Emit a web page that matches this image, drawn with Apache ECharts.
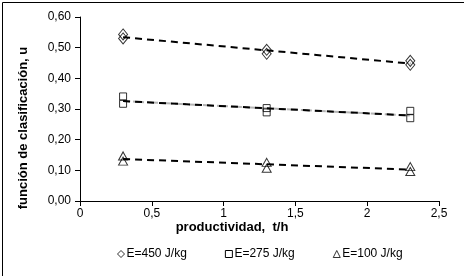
<!DOCTYPE html>
<html><head><meta charset="utf-8">
<script src="https://cdn.jsdelivr.net/npm/echarts@6/dist/echarts.min.js"></script>
<style>html,body{margin:0;padding:0;background:#fff}#c{width:464px;height:276px}</style>
</head><body><div id="c"></div>
<script>
const xValues = [0.3, 0.3, 1.3, 1.3, 2.3, 2.3];
const e450 = [0.543, 0.530, 0.493, 0.480, 0.457, 0.444];
const e275 = [0.341, 0.317, 0.303, 0.289, 0.294, 0.270];
const e100 = [0.147, 0.130, 0.126, 0.107, 0.112, 0.096];
const seriesNames = ['E=450 J/kg', 'E=275 J/kg', 'E=100 J/kg'];
const xTickLabels = ['0', '0,5', '1', '1,5', '2', '2,5'];
const xTitle = 'productividad,  t/h';
const yTitle = 'función de clasificación, u';

function fit(xs, ys) {
  const n = xs.length;
  const mx = xs.reduce((a, b) => a + b, 0) / n;
  const my = ys.reduce((a, b) => a + b, 0) / n;
  let sxy = 0, sxx = 0;
  for (let i = 0; i < n; i++) { sxy += (xs[i] - mx) * (ys[i] - my); sxx += (xs[i] - mx) ** 2; }
  const b = sxy / sxx, a = my - b * mx;
  const x0 = Math.min(...xs), x1 = Math.max(...xs);
  return [[x0, a + b * x0], [x1, a + b * x1]];
}
const pts = ys => xValues.map((x, i) => [x, ys[i]]);
const font = 'Liberation Sans, Arial, sans-serif';
const markerStyle = { color: 'rgba(255,255,255,0)', borderColor: '#000', borderWidth: 1 };
const dashed = { color: '#000', width: 2, type: [7, 5] };

const chart = echarts.init(document.getElementById('c'));
chart.setOption({
  animation: false,
  grid: { left: 80, right: 25, top: 17, bottom: 75 },
  xAxis: {
    type: 'value', min: 0, max: 2.5, interval: 0.5,
    splitLine: { show: false },
    axisLine: { lineStyle: { color: '#000', width: 1 } },
    axisTick: { show: true, length: 5, lineStyle: { color: '#000' } },
    axisLabel: { color: '#000', fontSize: 12, fontFamily: font, margin: 7,
      formatter: v => xTickLabels[Math.round(v / 0.5)] }
  },
  yAxis: {
    type: 'value', min: 0, max: 0.6, interval: 0.1,
    splitLine: { show: false },
    axisLine: { show: true, lineStyle: { color: '#000', width: 1 } },
    axisTick: { show: true, length: 5, lineStyle: { color: '#000' } },
    axisLabel: { color: '#000', fontSize: 12, fontFamily: font, margin: 9,
      formatter: v => v.toFixed(2).replace('.', ',') }
  },
  legend: {
    left: 112, top: 243, itemGap: 38, itemWidth: 7, itemHeight: 7,
    textStyle: { color: '#000', fontSize: 12, fontFamily: font, padding: [0, 0, 0, -3] },
    data: [
      { name: seriesNames[0], icon: 'diamond', itemStyle: { color: '#fff', borderColor: '#000', borderWidth: 1 } },
      { name: seriesNames[1], icon: 'rect', itemStyle: { color: '#fff', borderColor: '#000', borderWidth: 1 } },
      { name: seriesNames[2], icon: 'triangle', itemStyle: { color: '#fff', borderColor: '#000', borderWidth: 1 } }
    ]
  },
  graphic: [
    { type: 'rect', left: 0, top: 0, z: 100, silent: true,
      shape: { x: 0.5, y: 0.5, width: 463, height: 275 },
      style: { fill: 'none', stroke: '#000', lineWidth: 1 } },
    { type: 'text', left: 'center', top: 221, z: 10, x: 43,
      style: { text: xTitle, font: 'bold 13px ' + font, fill: '#000' } },
    { type: 'text', x: 23, y: 128, rotation: Math.PI / 2, z: 10,
      style: { text: yTitle, font: 'bold 13px ' + font, fill: '#000', align: 'center', verticalAlign: 'middle' } }
  ],
  series: [
    { name: seriesNames[1], type: 'line', data: fit(xValues, e275), showSymbol: false, symbol: 'none',
      lineStyle: { color: '#b4b4b4', width: 2, type: [11, 3], dashOffset: 4 }, z: 1, legendHoverLink: false, silent: true },
    { type: 'line', data: fit(xValues, e450), symbol: 'none', lineStyle: dashed, z: 3 },
    { type: 'line', data: fit(xValues, e275), symbol: 'none', lineStyle: dashed, z: 3 },
    { type: 'line', data: fit(xValues, e100), symbol: 'none', lineStyle: dashed, z: 3 },
    { name: seriesNames[0], type: 'scatter', data: pts(e450), symbol: 'diamond', symbolSize: [9, 11], itemStyle: markerStyle, z: 4 },
    { name: seriesNames[1], type: 'scatter', data: pts(e275), symbol: 'rect', symbolSize: [7, 7], itemStyle: markerStyle, z: 4 },
    { name: seriesNames[2], type: 'scatter', data: pts(e100), symbol: 'triangle', symbolSize: [9, 8], itemStyle: markerStyle, z: 4 }
  ]
});
</script></body></html>
